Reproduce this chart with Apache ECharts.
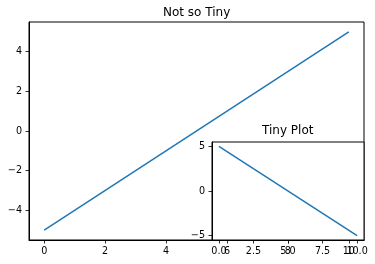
<!DOCTYPE html>
<html><head><meta charset="utf-8">
<script src="https://cdn.jsdelivr.net/npm/echarts@6/dist/echarts.min.js"></script>
<style>html,body{margin:0;padding:0;background:#fff}#c{width:375px;height:264px}</style>
</head><body><div id="c"></div>
<script>
var xs = [0, 10];
var mainY = [-5, 5];
var insetY = [5, -5];
var mainXTicks = [0, 2, 4, 6, 8, 10];
var mainYTicks = [-4, -2, 0, 2, 4];
var insetXTicks = [0, 2.5, 5, 7.5, 10];
var insetYTicks = [-5, 0, 5];

function minus(s){ return String(s).replace('-', '\u2212'); }
var font = 'DejaVu Sans';
function axis(gridIndex, min, max, ticks, fmt, isX){
  return {
    type: 'value', gridIndex: gridIndex, min: min, max: max,
    splitLine: {show: false},
    axisLine: {show: true, onZero: false, lineStyle: {color: '#000', width: 1}},
    axisTick: {show: true, inside: false, length: 3.5, customValues: ticks, lineStyle: {color: '#000', width: 0.8}},
    axisLabel: {show: true, customValues: ticks, formatter: fmt, color: '#000', fontFamily: font, fontSize: 9.6, margin: isX ? 6 : 7}
  };
}
var chart = echarts.init(document.getElementById('c'), null, {renderer: 'canvas'});
chart.setOption({
  animation: false,
  backgroundColor: '#fff',
  title: [
    {text: 'Not so Tiny', left: 163, top: 7, padding: 0, textStyle: {fontFamily: font, fontSize: 12, fontWeight: 'normal', color: '#000'}},
    {text: 'Tiny Plot', left: 262, top: 125, padding: 0, textStyle: {fontFamily: font, fontSize: 12, fontWeight: 'normal', color: '#000'}}
  ],
  grid: [
    {left: 29, top: 22, right: 11, bottom: 24, show: true, borderColor: '#000', borderWidth: 1, backgroundColor: '#fff'},
    {left: 212, top: 142, right: 11, bottom: 24, show: true, borderColor: '#000', borderWidth: 1, backgroundColor: '#fff'}
  ],
  xAxis: [
    axis(0, -0.5, 10.5, mainXTicks, function(v){return minus(v);}, true),
    axis(1, -0.5, 10.5, insetXTicks, function(v){return minus(v.toFixed(1));}, true)
  ],
  yAxis: [
    axis(0, -5.5, 5.5, mainYTicks, function(v){return minus(v);}, false),
    axis(1, -5.5, 5.5, insetYTicks, function(v){return minus(v);}, false)
  ],
  series: [
    {type: 'line', xAxisIndex: 0, yAxisIndex: 0, data: xs.map(function(x,i){return [x, mainY[i]];}), showSymbol: false, symbol: 'none', lineStyle: {color: '#1f77b4', width: 1.5}, z: 2},
    {type: 'line', xAxisIndex: 1, yAxisIndex: 1, data: xs.map(function(x,i){return [x, insetY[i]];}), showSymbol: false, symbol: 'none', lineStyle: {color: '#1f77b4', width: 1.5}, z: 5}
  ]
});
</script></body></html>
